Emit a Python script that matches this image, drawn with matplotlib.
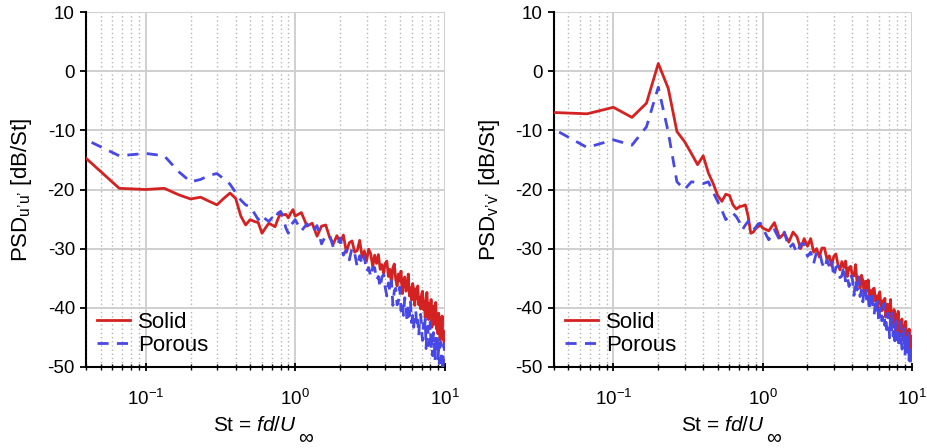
import matplotlib
matplotlib.use("Agg")
import matplotlib.pyplot as plt
from matplotlib.ticker import LogLocator, NullFormatter, FixedLocator

plt.rcParams['font.family'] = ['Liberation Sans', 'DejaVu Sans']
plt.rcParams['mathtext.fontset'] = 'custom'
plt.rcParams['mathtext.rm'] = 'Liberation Sans'
plt.rcParams['mathtext.it'] = 'Liberation Sans:italic'
plt.rcParams['mathtext.sf'] = 'Liberation Sans'
plt.rcParams['axes.unicode_minus'] = False

# Strouhal number bins
st = [0.0333, 0.0667, 0.1, 0.1333, 0.1667, 0.2, 0.2333, 0.2667, 0.3, 0.3333,
      0.3667, 0.4, 0.4333, 0.4667, 0.5, 0.5333, 0.5667, 0.6, 0.6333, 0.6667,
      0.7, 0.7333, 0.7667, 0.8, 0.8333, 0.8667, 0.9, 0.9333, 0.9667, 1.0,
      1.1, 1.2, 1.3, 1.4, 1.5, 1.6, 1.7, 1.8, 1.9, 2.0,
      2.1, 2.2, 2.3, 2.4, 2.5, 2.6, 2.7, 2.8, 2.9, 3.0,
      3.1, 3.2, 3.3, 3.4, 3.5, 3.6, 3.7, 3.8, 3.9, 4.0,
      4.1, 4.2, 4.3, 4.4, 4.5, 4.6, 4.7, 4.8, 4.9, 5.0,
      5.1, 5.2, 5.3, 5.4, 5.5, 5.6, 5.7, 5.8, 5.9, 6.0,
      6.1, 6.2, 6.3, 6.4, 6.5, 6.6, 6.7, 6.8, 6.9, 7.0,
      7.1, 7.2, 7.3, 7.4, 7.5, 7.6, 7.7, 7.8, 7.9, 8.0,
      8.1, 8.2, 8.3, 8.4, 8.5, 8.6, 8.7, 8.8, 8.9, 9.0,
      9.1, 9.2, 9.3, 9.4, 9.5, 9.6, 9.7, 9.8, 9.9, 10.0]

# streamwise velocity PSD [dB/St]
psd_uu_solid = [-12.9, -19.8, -20.0, -19.8, -20.9, -21.6, -21.3, -22.0, -22.6, -21.5,
                -20.6, -21.5, -24.5, -26.0, -25.1, -25.4, -25.6, -27.4, -26.5, -25.7,
                -26.0, -26.3, -25.0, -24.0, -24.3, -24.2, -24.8, -24.0, -23.4, -24.5,
                -23.9, -26.2, -25.7, -27.9, -26.2, -26.0, -28.1, -29.2, -27.8, -29.0,
                -27.7, -30.6, -29.0, -28.7, -30.6, -30.3, -28.6, -31.4, -30.4, -32.1,
                -30.1, -30.9, -33.1, -31.1, -32.5, -31.0, -33.5, -32.7, -34.2, -32.5,
                -32.1, -34.7, -33.5, -35.9, -33.2, -32.6, -35.2, -36.3, -34.3, -35.5,
                -33.8, -37.6, -35.2, -34.8, -37.2, -36.7, -34.3, -38.0, -36.6, -38.7,
                -35.9, -36.9, -39.6, -36.8, -38.5, -36.3, -39.5, -38.3, -40.2, -37.7,
                -37.2, -40.3, -38.9, -41.7, -38.3, -37.4, -40.6, -42.0, -39.3, -40.8,
                -38.6, -43.3, -40.3, -39.7, -42.8, -42.0, -39.1, -43.6, -41.8, -44.4,
                -40.9, -42.1, -45.5, -42.0, -44.2, -41.4, -45.3, -43.9, -46.2, -45.8]
psd_uu_porous = [-10.6, -14.3, -13.9, -14.3, -17.0, -18.7, -18.3, -17.6, -17.3, -18.2,
                 -19.1, -20.5, -21.8, -22.6, -22.9, -24.0, -25.1, -24.3, -25.0, -25.4,
                 -24.8, -25.2, -24.0, -23.7, -24.8, -26.5, -27.4, -26.0, -25.6, -25.1,
                 -27.0, -25.8, -27.1, -26.1, -29.2, -27.8, -27.7, -29.8, -29.7, -28.2,
                 -31.1, -30.2, -31.9, -29.9, -30.8, -33.1, -31.2, -32.7, -31.3, -33.9,
                 -33.2, -34.8, -33.2, -33.2, -35.3, -34.7, -36.6, -34.8, -34.4, -36.6,
                 -38.0, -35.8, -37.2, -35.4, -39.6, -37.1, -36.7, -39.5, -38.9, -36.5,
                 -40.5, -39.0, -41.3, -38.3, -39.5, -42.5, -39.4, -41.4, -39.0, -42.5,
                 -41.3, -43.3, -40.7, -40.5, -43.3, -42.1, -44.7, -41.8, -41.1, -43.9,
                 -45.5, -42.7, -44.3, -41.9, -46.9, -43.7, -43.1, -46.4, -45.6, -42.4,
                 -47.2, -45.3, -48.1, -44.2, -45.5, -49.0, -45.2, -47.5, -44.4, -48.6,
                 -47.0, -49.4, -46.1, -45.8, -49.2, -47.6, -50.7, -47.0, -46.1, -49.4]

# cross-stream velocity PSD [dB/St]
psd_vv_solid = [-6.9, -7.2, -6.1, -7.8, -5.4, 1.3, -2.9, -10.2, -11.9, -13.9,
                -15.8, -14.3, -17.2, -19.0, -21.0, -22.0, -20.8, -21.0, -22.6, -23.3,
                -22.9, -22.8, -22.6, -24.5, -27.4, -27.2, -26.6, -26.3, -26.0, -26.5,
                -27.0, -25.6, -28.2, -27.4, -28.9, -27.2, -28.0, -30.0, -28.3, -29.6,
                -28.3, -30.6, -30.0, -31.4, -29.9, -29.9, -31.8, -31.2, -32.9, -31.3,
                -30.9, -32.7, -33.6, -32.2, -33.2, -32.1, -34.7, -33.2, -33.0, -34.7,
                -34.6, -32.7, -35.9, -34.8, -36.7, -34.5, -35.4, -37.8, -35.5, -37.1,
                -35.3, -38.0, -37.1, -38.7, -36.8, -36.7, -38.9, -38.0, -40.0, -37.8,
                -37.3, -39.5, -40.5, -38.8, -39.9, -38.4, -41.6, -39.7, -39.4, -41.5,
                -41.2, -38.6, -42.6, -41.1, -43.3, -40.3, -41.3, -44.3, -41.2, -43.1,
                -40.6, -44.1, -42.8, -44.8, -42.1, -41.9, -44.7, -43.5, -46.0, -43.0,
                -42.3, -45.1, -46.4, -44.1, -45.5, -43.6, -47.8, -45.2, -44.8, -47.5]
psd_vv_porous = [-8.7, -12.9, -11.6, -12.5, -9.4, -2.7, -10.3, -18.7, -20.0, -18.7,
                 -18.8, -19.0, -18.7, -20.5, -22.0, -23.5, -25.1, -24.5, -24.0, -24.6,
                 -25.5, -26.8, -26.0, -25.4, -26.2, -26.8, -26.4, -25.8, -25.7, -26.5,
                 -28.5, -26.8, -28.5, -27.2, -29.9, -29.2, -30.8, -29.2, -29.2, -31.3,
                 -30.6, -32.5, -30.6, -30.3, -32.4, -33.4, -31.9, -33.0, -31.9, -34.8,
                 -33.2, -32.9, -34.9, -34.6, -32.9, -35.7, -34.8, -36.4, -34.4, -35.2,
                 -37.9, -35.2, -37.0, -34.8, -38.1, -37.0, -39.0, -36.6, -36.5, -39.2,
                 -38.1, -40.5, -37.8, -37.2, -39.9, -41.1, -39.0, -40.4, -38.7, -42.5,
                 -40.2, -39.8, -42.2, -41.7, -39.3, -43.0, -41.6, -43.7, -40.9, -41.9,
                 -45.1, -41.6, -43.7, -40.9, -44.8, -43.3, -45.6, -42.5, -42.2, -45.4,
                 -43.9, -46.8, -43.3, -42.4, -45.6, -47.0, -44.3, -45.8, -43.5, -48.2,
                 -45.3, -44.8, -47.9, -47.2, -44.3, -48.9, -47.2, -49.8, -46.3, -49.5]

labels = ["Solid", "Porous"]
ylabels = ["PSD$_{\\mathrm{u\u2019u\u2019}}$ [dB/St]", "PSD$_{\\mathrm{v\u2019v\u2019}}$ [dB/St]"]
y_ticks = [-50, -40, -30, -20, -10, 0, 10]

red = '#d42222'
blue = '#4848e6'

fig = plt.figure(figsize=(9.27, 4.48), dpi=100)
ax1 = fig.add_axes([0.0928, 0.181, 0.387, 0.792])
ax2 = fig.add_axes([0.5976, 0.181, 0.386, 0.792])

panels = [(ax1, psd_uu_solid, psd_uu_porous, ylabels[0]),
          (ax2, psd_vv_solid, psd_vv_porous, ylabels[1])]

for ax, solid, porous, ylab in panels:
    ax.set_xscale('log')
    ax.plot(st, solid, color=red, lw=2.0, label=labels[0], zorder=3)
    ax.plot(st, porous, color=blue, lw=2.0, ls=(0, (4, 3)), label=labels[1], zorder=3)
    ax.set_xlim(0.04, 10)
    ax.set_ylim(-50, 10)
    ax.yaxis.set_major_locator(FixedLocator(y_ticks))
    ax.xaxis.set_major_locator(LogLocator(base=10, numticks=10))
    ax.xaxis.set_minor_locator(LogLocator(base=10, subs=range(2, 10), numticks=20))
    ax.xaxis.set_minor_formatter(NullFormatter())
    ax.grid(which='major', color='#cfcfcf', lw=1.4, ls='-', zorder=0)
    ax.grid(which='minor', axis='x', color='#b4b4b4', lw=1.0, ls=(0, (1, 2)), zorder=0)
    ax.set_axisbelow(True)
    for side in ('top', 'right'):
        ax.spines[side].set_visible(False)
    for side in ('left', 'bottom'):
        ax.spines[side].set_linewidth(1.5)
        ax.spines[side].set_color('black')
    ax.tick_params(axis='both', which='major', labelsize=13.5, width=1.3,
                   length=6, direction='inout')
    ax.tick_params(axis='x', which='major', pad=13)
    ax.tick_params(axis='x', which='minor', width=1.0, length=4, direction='inout')
    ax.tick_params(axis='y', which='major', direction='out', length=4, pad=4)
    ax.set_ylabel(ylab, fontsize=16, labelpad=10)
    ax.set_xlabel("St = $fd/U$", fontsize=15)
    ax.xaxis.label.set_verticalalignment('top')
    ax.xaxis.set_label_coords(0.472, -0.138)
    ax.legend(loc='lower left', frameon=False, fontsize=16, handlelength=1.5,
              handletextpad=0.35, labelspacing=0.1, borderaxespad=0.1,
              borderpad=0.4, bbox_to_anchor=(0.0, 0.0))

# free-stream subscript drawn full size, dropped below the velocity symbol
fig.canvas.draw()
renderer = fig.canvas.get_renderer()
for ax in (ax1, ax2):
    bb = ax.xaxis.label.get_window_extent(renderer)
    fig.text(bb.x1 + 1, 10, "\u221e", fontsize=15, ha='left', va='center',
             transform=None)

fig.savefig('out.png', dpi=100)
